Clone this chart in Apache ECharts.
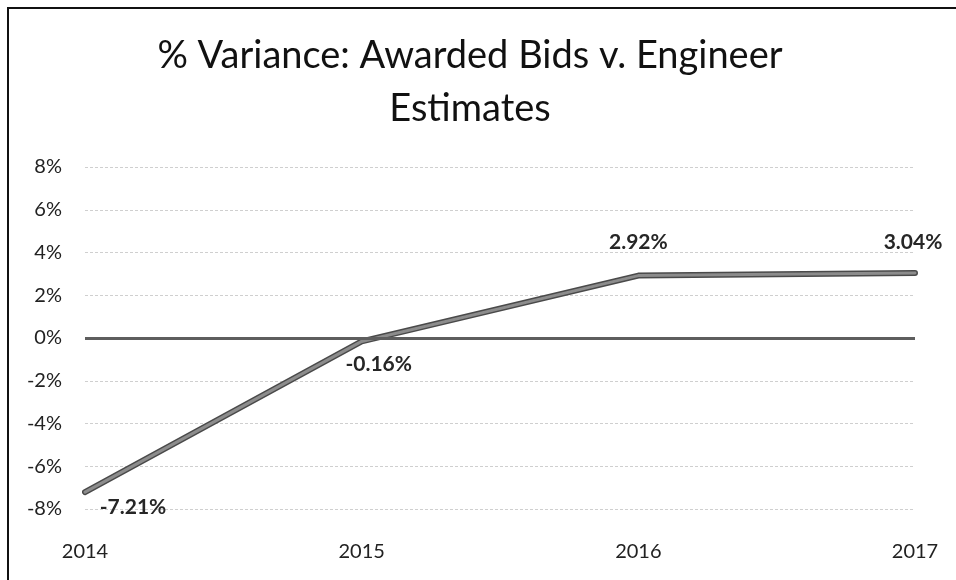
<!DOCTYPE html>
<html>
<head>
<meta charset="utf-8">
<script src="https://cdn.jsdelivr.net/npm/echarts@6/dist/echarts.min.js"></script>
<style>
html,body{margin:0;padding:0;background:#fff;}
#frame{position:absolute;left:7px;top:7px;width:960px;height:600px;border-left:2px solid #111;border-top:2px solid #111;box-sizing:border-box;}
#chart{position:absolute;left:0;top:0;width:956px;height:580px;}
</style>
</head>
<body>
<div id="frame"></div>
<div id="chart"></div>
<script>
const titleText = '% Variance: Awarded Bids v. Engineer\nEstimates';
const years = ['2014', '2015', '2016', '2017'];
const variance = [-7.21, -0.16, 2.92, 3.04];
const yTicks = [-8, -6, -4, -2, 0, 2, 4, 6, 8];
const labelOffsets = [[48, 15], [17, 23], [0, -33], [-2, -31]];

const FONT = 'Lato, "Open Sans", sans-serif';
const chart = echarts.init(document.getElementById('chart'), null, {renderer: 'canvas'});

const labelData = variance.map((v, i) => ({
  value: v,
  label: {
    show: true,
    position: 'inside',
    offset: labelOffsets[i],
    formatter: v.toFixed(2) + '%',
    fontFamily: FONT,
    fontWeight: 'bold',
    fontSize: 21,
    color: '#262626'
  }
}));

chart.setOption({
  animation: false,
  backgroundColor: 'transparent',
  title: {
    text: titleText,
    left: 465,
    textAlign: 'center',
    top: 24,
    textStyle: {
      fontFamily: FONT,
      fontWeight: 'normal',
      fontSize: 38,
      lineHeight: 53,
      color: '#111'
    }
  },
  grid: {left: 85, right: 41, top: 167, bottom: 71, containLabel: false},
  xAxis: {
    type: 'category',
    data: years,
    boundaryGap: false,
    axisLine: {show: false},
    axisTick: {show: false},
    axisLabel: {fontFamily: FONT, fontSize: 20, color: '#222', margin: 33}
  },
  yAxis: {
    type: 'value',
    min: yTicks[0],
    max: yTicks[yTicks.length - 1],
    interval: 2,
    axisLine: {show: false},
    axisTick: {show: false},
    axisLabel: {fontFamily: FONT, fontSize: 20, color: '#222', margin: 23, formatter: v => v + '%'},
    splitLine: {lineStyle: {color: '#cfcfcf', width: 1, type: [3, 2]}}
  },
  series: [
    {
      type: 'line',
      data: [],
      z: 1,
      markLine: {
        silent: true,
        symbol: ['none', 'none'],
        label: {show: false},
        lineStyle: {color: '#5e5e5e', width: 3, type: 'solid'},
        data: [{yAxis: 0}]
      }
    },
    {
      type: 'line',
      data: variance,
      z: 3,
      symbol: 'none',
      lineStyle: {color: '#4a4a4a', width: 6, cap: 'round', join: 'round'}
    },
    {
      type: 'line',
      data: labelData,
      z: 4,
      symbol: 'circle',
      symbolSize: 1,
      itemStyle: {color: 'rgba(0,0,0,0)'},
      lineStyle: {color: '#8c8c8c', width: 3, cap: 'round', join: 'round'}
    }
  ]
});
</script>
</body>
</html>
